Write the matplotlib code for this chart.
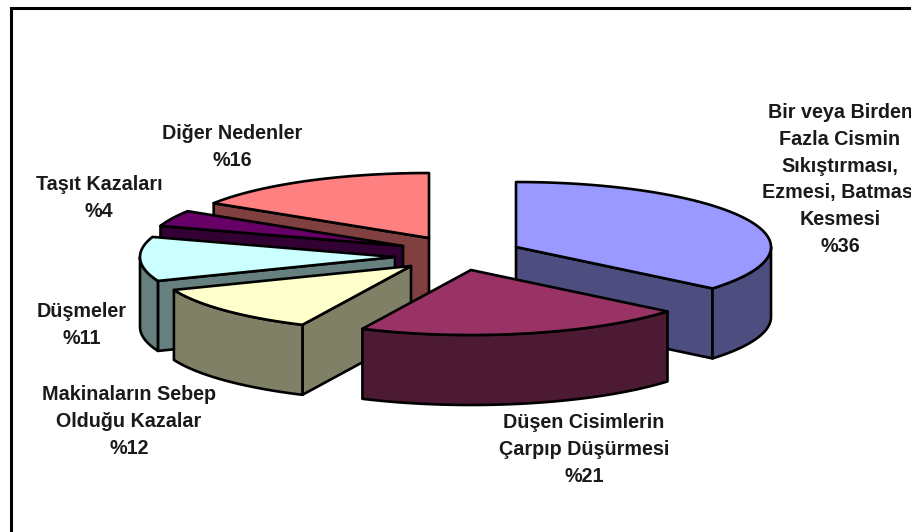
import numpy as np
import matplotlib
matplotlib.use("Agg")
import matplotlib.pyplot as plt
from matplotlib.patches import Polygon

# slice shares in chart order (clockwise from 12 o'clock)
names = ["Bir veya Birden\nFazla Cismin\nSıkıştırması,\nEzmesi, Batması\nKesmesi",
         "Düşen Cisimlerin\nÇarpıp Düşürmesi",
         "Makinaların Sebep\nOlduğu Kazalar",
         "Düşmeler",
         "Taşıt Kazaları",
         "Diğer Nedenler"]
shares = [36, 21, 12, 11, 4, 16]

top_colors = ["#9999FF", "#993366", "#FFFFCC", "#CCFFFF", "#660066", "#FF8080"]
wall_colors = ["#4D4D80", "#4D1A33", "#808066", "#668080", "#330033", "#804040"]

# apex of each exploded slice, in pixels
apex_x = [516, 471, 411, 395, 403, 429]
apex_y = [247, 270, 266, 257, 246, 238]
label_x = [840, 584, 129, 82, 99, 232]
label_y = [179, 449, 421, 324.5, 197.5, 146.5]

RX, RY = 255, 65   # ellipse of the pie top
DEPTH = 70         # height of the slices
LW = 1.9
LINE_STEP = 26.8   # pixels between label lines

plt.rcParams["font.family"] = ["Liberation Sans", "DejaVu Sans"]

fig = plt.figure(figsize=(9.11, 5.32), dpi=100)
ax = fig.add_axes([0, 0, 1, 1])
ax.set_xlim(0, 911)
ax.set_ylim(532, 0)
ax.axis("off")

# page frame of the scanned figure (only top and left are in view)
ax.plot([10.5, 10.5, 911], [532, 7.5, 7.5], color="black", lw=2.2,
        solid_joinstyle="miter", solid_capstyle="butt")


def rim(i, a, b, n=80):
    t = np.radians(np.linspace(a, b, n))
    return np.column_stack([apex_x[i] + RX * np.sin(t), apex_y[i] - RY * np.cos(t)])


def add_poly(pts, color, z):
    ax.add_patch(Polygon(pts, closed=True, facecolor=color, edgecolor="black",
                         lw=LW, joinstyle="round", zorder=z))


edges = np.concatenate([[0], np.cumsum(shares)]) * 3.6
drop = np.array([0, DEPTH])

# back slices first, the big front ones last
for z, i in enumerate([5, 4, 3, 2, 0, 1]):
    a, b = edges[i], edges[i + 1]
    z = z * 10 + 2
    apex = np.array([apex_x[i], apex_y[i]])
    # radial walls that look towards the viewer
    for ang, visible in ((a, np.sin(np.radians(a)) < -1e-6), (b, np.sin(np.radians(b)) > 1e-6)):
        if visible:
            p = rim(i, ang, ang, 2)[0]
            add_poly([apex, p, p + drop, apex + drop], wall_colors[i], z)
    # outer wall, only the front half of the ellipse
    lo, hi = max(a, 90), min(b, 270)
    if lo < hi:
        arc = rim(i, lo, hi)
        add_poly(np.vstack([arc, (arc + drop)[::-1]]), wall_colors[i], z + 1)
    add_poly(np.vstack([apex, rim(i, a, b)]), top_colors[i], z + 2)

# one text per line, multiline spacing in matplotlib jumps around at this size
for name, share, x, y in zip(names, shares, label_x, label_y):
    lines = name.split("\n") + [f"%{share}"]
    for k, line in enumerate(lines):
        ax.text(x, y + (k - (len(lines) - 1) / 2) * LINE_STEP + 6, line,
                ha="center", va="baseline", fontsize=14.2, fontweight="bold",
                color="#1a1a1a", zorder=100)

fig.savefig("out.png", dpi=100)
